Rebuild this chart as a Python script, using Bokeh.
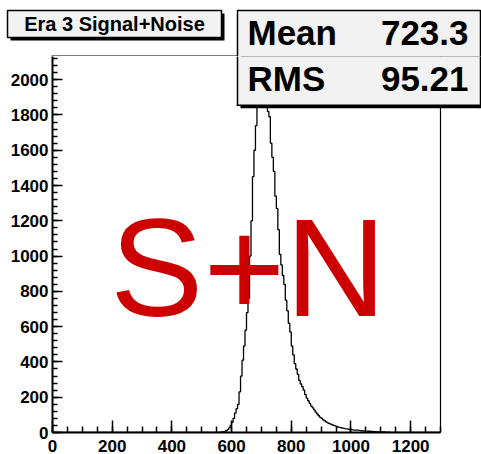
from bokeh.plotting import figure
from bokeh.layouts import column
from bokeh.models import Range1d, SingleIntervalTicker, BoxAnnotation, Label
from bokeh.embed import file_html
from bokeh.resources import INLINE

# ---- histogram content -------------------------------------------------
TITLE = "Era 3 Signal+Noise"
STAT_NAMES = ["Mean", "RMS"]
STAT_VALUES = ["723.3", "95.21"]
BIG_LABEL = "S+N"

X_MIN, X_MAX = 0, 1300
BIN_WIDTH = 5
FIRST_EDGE = 545          # lower edge of the first non-empty bin
COUNTS = [
    1, 1, 1, 2, 3, 4, 6, 10, 16, 26,                  # 545 - 590
    40, 58, 80, 110, 135, 160, 230, 320, 410, 490,    # 595 - 640
    580, 680, 760, 1000, 1200, 1450, 1600, 1740, 1880, 1960,   # 645 - 690
    2010, 2030, 2020, 1960, 1860, 1820, 1790, 1640, 1560, 1480,  # 695 - 740
    1340, 1270, 1150, 1010, 950, 890, 840, 750, 690, 620,      # 745 - 790
    570, 490, 440, 390, 360, 330, 295, 275, 260, 240,          # 795 - 840
    215, 195, 180, 165, 150, 140, 128, 115, 105, 95,           # 845 - 890
    86, 80, 72, 66, 60, 55, 51, 48, 44, 40,                    # 895 - 940
    37, 34, 31, 29, 27, 25, 23, 21, 20, 18,                    # 945 - 990
    17, 16, 15, 14, 13, 13, 12, 11, 10, 9,                     # 995 - 1040
    8, 8, 7, 7, 6, 6, 5, 5, 4, 4,                              # 1045 - 1090
    4, 3, 3, 3, 2, 2, 2, 1, 1, 1,                              # 1095 - 1140
    1, 1,                                                      # 1145 - 1150
]
X_TICK_STEP = 200
Y_TICK_STEP = 200

# ---- canvas geometry (pixels) -----------------------------------------
W, H = 481, 454
HEADER_H = 56                 # strip above the histogram frame
B_LEFT, B_BOTTOM = 52, 21
AXES_RIGHT = 440              # canvas x where the histogram axes end
FRAME_H = H - HEADER_H - B_BOTTOM

FONT = "Liberation Sans"
BOX_FILL = "#f2f2f2"
SHADOW = 3
BORDER = 1.5
TITLE_BOX = (7, 10, 221, 37)      # left, top, right, bottom
STATS_BOX = (237, 10, 480, 105)
BASE_SHIFT = 0.35                 # label baseline correction, in em

edges = [FIRST_EDGE + i * BIN_WIDTH for i in range(len(COUNTS) + 1)]
step_x = [X_MIN] + edges + [X_MAX]
step_y = [0] + COUNTS + [0, 0]

y_top = max(COUNTS) * 1.05
x_view_end = X_MIN + (X_MAX - X_MIN) * (W - B_LEFT) / (AXES_RIGHT - B_LEFT)


def sx(cx):
    """canvas x -> screen units of the histogram frame"""
    return cx - B_LEFT


def dy(cy):
    """canvas y -> count value, measured down from the frame top"""
    return y_top - (cy - HEADER_H) * y_top / FRAME_H


# ---- histogram panel ---------------------------------------------------
p = figure(
    width=W, height=H - HEADER_H,
    x_range=Range1d(X_MIN, x_view_end),
    y_range=Range1d(0, y_top),
    output_backend="svg", toolbar_location=None,
    min_border_left=B_LEFT, min_border_right=0,
    min_border_top=0, min_border_bottom=B_BOTTOM,
)
p.frame_align = False
p.grid.visible = False
p.background_fill_color = "white"
p.border_fill_color = "white"
p.outline_line_color = None

p.step(step_x, step_y, mode="after", line_color="black", line_width=1.3)

# right edge of the axes box
p.segment(x0=[X_MAX], y0=[0], x1=[X_MAX], y1=[y_top], line_color="black", line_width=1.2)

p.xaxis.ticker = SingleIntervalTicker(interval=X_TICK_STEP, num_minor_ticks=4)
p.yaxis.ticker = SingleIntervalTicker(interval=Y_TICK_STEP, num_minor_ticks=5)
p.xaxis.bounds = (X_MIN, X_MAX)
for ax in (p.xaxis[0], p.yaxis[0]):
    ax.axis_line_width = 2
    ax.axis_line_color = "black"
    ax.major_tick_out = 0
    ax.minor_tick_out = 0
    ax.major_tick_line_width = 1.5
    ax.minor_tick_line_width = 1.5
    ax.major_tick_line_color = "black"
    ax.minor_tick_line_color = "black"
    ax.major_label_text_font = FONT
    ax.major_label_text_font_style = "bold"
    ax.major_label_text_font_size = "17px"
    ax.major_label_text_color = "black"
p.xaxis.major_tick_in = 12
p.xaxis.minor_tick_in = 6
p.yaxis.major_tick_in = 10
p.yaxis.minor_tick_in = 5
p.xaxis.major_label_standoff = 7
p.yaxis.major_label_standoff = 4

# lower part of the statistics box (overlaps the histogram frame):
# fill plus separate edge strips, so nothing is drawn along the frame top
units = dict(left_units="screen", right_units="screen", top_units="data", bottom_units="data")


def strip(left, top, right, bottom, color):
    p.add_layout(BoxAnnotation(left=sx(left), right=sx(right), top=dy(top), bottom=dy(bottom),
                               fill_color=color, fill_alpha=1.0, line_color=None, **units))


l, t, r, b = STATS_BOX
half = BORDER / 2
strip(l + SHADOW, t + SHADOW, r + SHADOW, b + SHADOW, "black")
strip(l, t, r, b, BOX_FILL)
strip(l - half, t, l + half, b + half, "black")          # left edge
strip(r - half, t, r + half, b + half, "black")          # right edge
strip(l - half, b - half, r + half, b + half, "black")   # bottom edge

STAT_X_NAME, STAT_X_VALUE = 247, 468
STAT_BASELINES = [44.5, 90.8]
STAT_SIZE = 35

# ---- header strip (title box and top of the statistics box) ----------
h = figure(
    width=W, height=HEADER_H,
    x_range=Range1d(0, W), y_range=Range1d(HEADER_H, 0),
    x_axis_location=None, y_axis_location=None,
    output_backend="svg", toolbar_location=None,
    min_border_left=0, min_border_right=0, min_border_top=0, min_border_bottom=0,
)
h.frame_align = False
h.grid.visible = False
h.outline_line_color = None
h.background_fill_color = "white"
h.border_fill_color = "white"

# top edge of the axes box, along the bottom of the header strip
h.segment(x0=[B_LEFT - 1], y0=[HEADER_H - 0.5], x1=[AXES_RIGHT + 0.5], y1=[HEADER_H - 0.5],
          line_color="black", line_width=1.2)

for (l, t, r, b) in (TITLE_BOX, STATS_BOX):
    h.quad(left=[l + SHADOW], right=[r + SHADOW], top=[t + SHADOW], bottom=[b + SHADOW],
           fill_color="black", line_color=None)
    h.quad(left=[l], right=[r], top=[t], bottom=[b],
           fill_color=BOX_FILL, line_color="black", line_width=BORDER)

h.add_layout(Label(x=(TITLE_BOX[0] + TITLE_BOX[2]) / 2, y=30.5 - BASE_SHIFT * 20, text=TITLE,
                   text_align="center", text_baseline="alphabetic", text_font=FONT,
                   text_font_style="bold", text_font_size="20px", text_color="black"))


def stat_labels(fig, name, val, base, x_of, y_of, x_units):
    y = y_of(base - BASE_SHIFT * STAT_SIZE)
    for x, txt, align in ((x_of(STAT_X_NAME), name, "left"), (x_of(STAT_X_VALUE), val, "right")):
        fig.add_layout(Label(x=x, y=y, x_units=x_units, y_units="data", text=txt,
                             text_align=align, text_baseline="alphabetic", text_font=FONT,
                             text_font_style="bold", text_font_size=f"{STAT_SIZE}px",
                             text_color="black"))


stat_labels(h, STAT_NAMES[0], STAT_VALUES[0], STAT_BASELINES[0],
            lambda x: x, lambda y: y, "data")
stat_labels(p, STAT_NAMES[1], STAT_VALUES[1], STAT_BASELINES[1], sx, dy, "screen")

# big red tag inside the histogram, on top of the curve
p.add_layout(Label(
    x=193, y=935, text=BIG_LABEL, text_align="left", text_baseline="alphabetic",
    text_font=FONT, text_font_size="140px", text_color="#cc0000"))

layout = column(h, p, spacing=0)
open("out.html", "w").write(file_html(layout, INLINE))
